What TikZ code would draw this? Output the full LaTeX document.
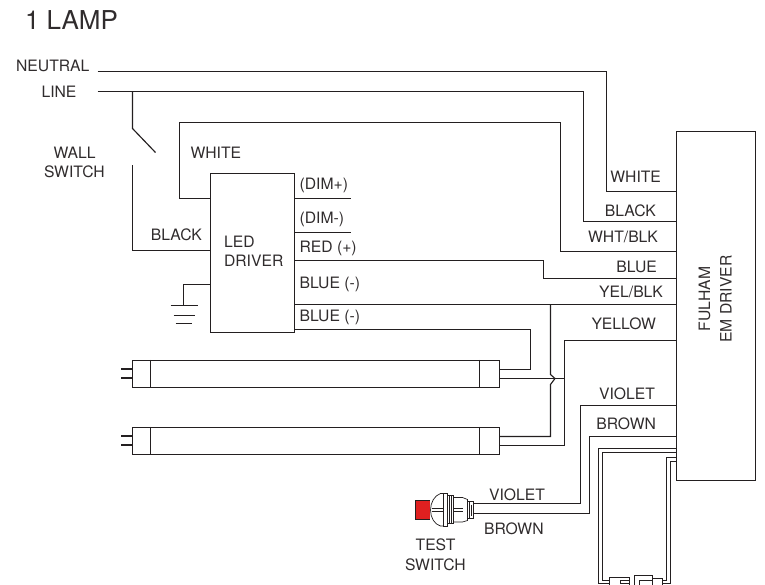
\documentclass[tikz,border=0pt]{standalone}
\usepackage{fontspec}
\setmainfont{TeX Gyre Heros}
\usetikzlibrary{calc}
\definecolor{ink}{HTML}{231F20}
\definecolor{lbl}{HTML}{302C2D}
\definecolor{btn}{HTML}{DF2020}

\begin{document}
\begin{tikzpicture}[x=1pt, y=-1pt, shift={(0.5, 0.5)}, line width=1.15pt, color=ink, line join=miter,
        txt/.style={inner sep=0pt, anchor=base west, text=lbl, font=\fontsize{15.7}{18}\selectfont},
        rtxt/.style={txt, anchor=base east},
        mtxt/.style={txt, anchor=base},
        box/.style={draw, rectangle, inner sep=0pt},
        pair/.style={double=white, double distance=2.8pt, line width=0.8pt},
        fine/.style={line width=0.7pt}]
    \useasboundingbox (-0.5, -0.5) rectangle (764.5, 584.5);
    \node[box, minimum width=79pt, minimum height=349pt] (em) at (715.5, 305.5) {};
    \node[box, minimum width=84pt, minimum height=159pt] (driver) at (252, 252.5) {};
    \node[box, minimum width=367pt, minimum height=27pt] (tube1) at (315.5, 373.5) {};
    \node[box, minimum width=367pt, minimum height=27pt] (tube2) at (315.5, 440.5) {};
    \foreach \t in {tube1, tube2} {
        \draw ($(\t.north west)+(18.5, 0)$) -- ($(\t.south west)+(18.5, 0)$);
        \draw ($(\t.north east)+(-20.5, 0)$) -- ($(\t.south east)+(-20.5, 0)$);
        \draw ($(\t.north west)+(0, 9)$) -- ++(-11, 0);
        \draw ($(\t.north west)+(0, 18)$) -- ++(-11, 0);
    }
    \node[txt, font=\fontsize{26}{30}\selectfont] (lamp) at (24, 29) {1 LAMP};
    \node[rtxt] (neutral) at (89.5, 71) {NEUTRAL};
    \node[rtxt] (line) at (76.5, 97) {LINE};
    \node[mtxt] (wall) at (74, 158) {WALL};
    \node[mtxt] (wallsw) at (74, 177) {SWITCH};
    \node[txt] (white) at (189.5, 158) {WHITE};
    \node[rtxt] (black) at (202, 240) {BLACK};
    \node[txt] (led) at (223, 247) {LED};
    \node[txt] (drv) at (223, 266) {DRIVER};
    \node[txt] (dimp) at (298.5, 189) {(DIM+)};
    \node[txt] (dimn) at (298.5, 223) {(DIM-)};
    \node[txt] (redp) at (298.5, 252) {RED (+)};
    \node[txt] (blue1) at (298.5, 288) {BLUE (-)};
    \node[txt] (blue2) at (298.5, 321) {BLUE (-)};
    \node[rtxt] (rwhite) at (661, 182) {WHITE};
    \node[rtxt] (rblack) at (656, 216) {BLACK};
    \node[rtxt] (rwht) at (658, 242) {WHT/BLK};
    \node[rtxt] (rblue) at (657, 272) {BLUE};
    \node[rtxt] (ryel) at (663, 297) {YEL/BLK};
    \node[rtxt] (ryellow) at (656, 329) {YELLOW};
    \node[rtxt] (rviolet) at (655, 399) {VIOLET};
    \node[rtxt] (rbrown) at (656, 429) {BROWN};
    \node[txt] (sviolet) at (488, 500) {VIOLET};
    \node[txt] (sbrown) at (483, 534) {BROWN};
    \node[mtxt] (test) at (435, 550) {TEST};
    \node[mtxt] (testsw) at (435, 570) {SWITCH};
    \node[mtxt, rotate=90] (fulham) at (709.5, 298.5) {FULHAM};
    \node[mtxt, rotate=90] (emdrv) at (731, 298.5) {EM DRIVER};
    \coordinate (n) at (97, 71);
    \coordinate (l) at (97, 91);
    \coordinate (sw1) at (132, 91);
    \coordinate (sw2) at (132, 165);
    \coordinate (sv) at (472, 503);
    \coordinate (sb) at (472, 513);
    \coordinate (con1) at (609, 581.5);
    \coordinate (con2) at (662, 581.5);
    \draw (n) -- (606, 71) -- (606, 191) -- (em.west |- 0, 191);
    \draw (l) -- (583, 91) -- (583, 221) -- (em.west |- 0, 221);
    \draw (sw1) -- (132, 128) -- (155, 152);
    \draw (sw2) -- (132, 250) -- (driver.west |- 0, 250);
    \draw (driver.west |- 0, 198) -- (179, 198) -- (179, 122) -- (560, 122) -- (560, 251) -- (em.west |- 0, 251);
    \draw (driver.east |- 0, 198) -- (350, 198);
    \draw (driver.east |- 0, 232) -- (350, 232);
    \draw (driver.east |- 0, 260) -- (543, 260) -- (543, 278) -- (em.west |- 0, 278);
    \draw (driver.east |- 0, 304) -- (em.west |- 0, 304);
    \draw (driver.east |- 0, 329) -- (530, 329) -- (530, 369) -- (tube1.east |- 0, 369);
    \draw (550, 304) -- (550, 374) -- (554.5, 378) -- (550, 384) -- (550, 436) -- (tube2.east |- 0, 436);
    \draw (tube1.east |- 0, 378) -- (564, 378);
    \draw (em.west |- 0, 340) -- (564, 340) -- (564, 445) -- (tube2.east |- 0, 445);
    \draw (em.west |- 0, 405) -- (580, 405) -- (580, 503) -- (sv);
    \draw (em.west |- 0, 436) -- (589, 436) -- (589, 513) -- (sb);
    \draw (driver.west |- 0, 284) -- (183, 284) -- (183, 305);
    \draw (170, 305) -- (197, 305);
    \draw (173, 315) -- (194, 315);
    \draw (175, 323) -- (191, 323);
    \draw[pair] (em.west |- 0, 450) -- (600, 450) -- (600, 581.5) -- (con1);
    \draw[pair] (em.west |- 0, 459) -- (668, 459) -- (668, 581.5) -- (con2);
    \draw[fine] (609, 577) rectangle (629, 586);
    \draw[fine] (620, 580) rectangle (629, 583);
    \draw[fine] (652, 575) -- (634, 575) -- (634, 586);
    \draw[fine] (652, 575) -- (652, 586);
    \draw[fine] (652, 578) rectangle (662, 585);
    \draw[fine] (639, 580) rectangle (652, 585);
    \fill[btn] (415, 500) rectangle (429.5, 519);
    \draw[fine] (429.5, 500) -- (415, 500) -- (415, 519) -- (429.5, 519);
    \draw[fine] (443, 493) -- (440, 493) .. controls (434, 495) and (430, 502) .. (430, 509.5) .. controls (430, 517) and (434, 524) .. (440, 525.5) -- (443, 525.5) -- cycle;
    \draw[fine] (431, 507.5) -- (443, 507.5) (431, 510.5) -- (443, 510.5);
    \draw[fine] (443, 493) rectangle (447, 525.5);
    \draw[fine] (447, 495) rectangle (453, 523);
    \draw[fine] (449, 495) -- (449, 523) (451, 495) -- (451, 523);
    \draw[fine] (453, 497) -- (462, 497) -- (467, 499) -- (467, 520) -- (462, 521.5) -- (453, 521.5);
    \draw[fine] (467, 501) -- (473, 501) -- (473, 518) -- (467, 518);
    \draw[fine] (453, 507.5) -- (462, 507.5) (453, 510.5) -- (462, 510.5);
    \draw[fine] (469, 501) -- (469, 518) (471, 504) -- (471, 515);
\end{tikzpicture}
\end{document}
